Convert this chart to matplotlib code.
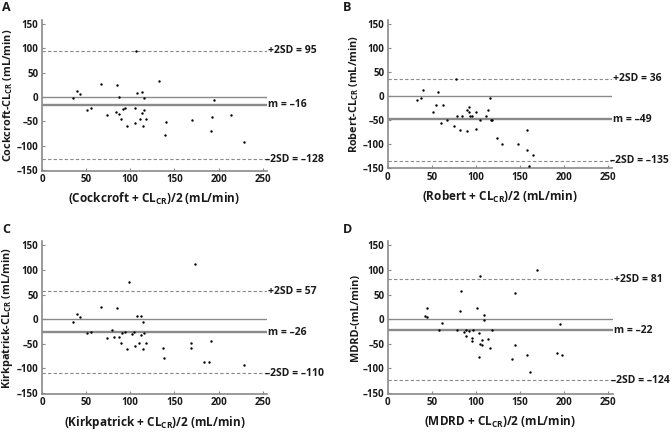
import matplotlib
matplotlib.use("Agg")
import matplotlib.pyplot as plt
import matplotlib.transforms as mtransforms

plt.rcParams['font.family'] = ['Open Sans', 'DejaVu Sans']
plt.rcParams['font.weight'] = 'bold'
plt.rcParams['mathtext.fontset'] = 'custom'
plt.rcParams['mathtext.rm'] = 'Open Sans:bold'
plt.rcParams['mathtext.bf'] = 'Open Sans:bold'
plt.rcParams['mathtext.default'] = 'rm'

# panel A: Cockcroft
a_x = [35.5, 39.6, 43, 51, 56, 67, 74, 85, 84, 87.5, 87, 90, 91.7, 94.4, 96.6, 105, 105.7,
       107, 108, 110.7, 113, 113, 114.5, 115.6, 116, 117.7, 133, 140.5, 139.4, 170, 192,
       191.5, 195, 214.5, 229]
a_y = [-3, 13, 5.5, -27, -23, 27, -36, 25, -31, -1, -35, -46, -25, -23, -59, -23, -54,
       94, 8, -46, -32, 10, -60, -3, -27, -46, 33, -52, -78, -47, -42, -70, -6, -36, -93]

# panel B: Robert
b_x = [33.3, 38.3, 39.8, 57.6, 55.3, 63, 51.5, 61, 67.8, 75.8, 79, 81.8, 84.5, 90, 90,
       92.4, 92.4, 93.6, 96, 100, 100, 104.5, 112, 114, 116, 117, 119, 124, 129.5, 148,
       158, 158, 161, 165.5, 77.6]
b_y = [-9, -5, 12, 7, -20, -20, -33, -57, -50, -62, -41, -71, -41, -73, -30, -23, -33,
       -41, -42, -33, -68, -50, -41, -30, -4, -50, -50, -87, -100, -100, -72, -113, -145,
       -123, 35]

# panel C: Kirkpatrick
c_x = [35.3, 39.5, 42.9, 51, 56, 67, 74, 79.3, 82, 84.6, 87.2, 90, 90.6, 94, 96.2, 98,
       101.5, 104.5, 105.3, 107.5, 110, 112, 112.4, 114, 114.7, 115.8, 117.3, 137.2,
       138.7, 169, 168.4, 173.3, 183, 189.5, 191.7, 228.6]
c_y = [-5, 11, 4, -29, -25, 25, -38, -21, -36, 23, -36, -48, -29, -25, -61, 75, -30, -25,
       -55, 7, -48, 7, -33, -61, -5, -29, -49, -59, -78, -48, -59, 111, -86, -86, -44, -93]

# panel D: MDRD
d_x = [41.9, 44.5, 44.5, 57.7, 61.8, 79, 81.8, 83.3, 86.7, 88.2, 89, 91.6, 95, 95, 97,
       100.7, 103.7, 103.7, 104.5, 104.5, 106.3, 106.7, 108.6, 109.4, 113.5, 115.4,
       118.4, 141, 144.4, 144.1, 158, 161.4, 168.6, 192, 194.6, 197]
d_y = [7, 22, 5, -21, -7, -22, 16, 58, -26, -34, -21, -24, -38, -45, -21, 23, -28, -77,
       -51, 88, -43, -53, -1, 8, -40, -58, -22, -80, -52, 54, -72, -107, 99, -68, -9, -72]

means = [-16, -49, -26, -22]
upper = [95, 36, 57, 81]
lower = [-128, -135, -110, -124]
letters = ['A', 'B', 'C', 'D']
names = ['Cockcroft', 'Robert', 'Kirkpatrick', 'MDRD']
ylabels = ['Cockcroft-CL$_{CR}$ (mL/min)', 'Robert-CL$_{CR}$ (mL/min)',
           'Kirkpatrick-CL$_{CR}$ (mL/min)', 'MDRD-(mL/min)']
xticks = [0, 50, 100, 150, 200, 250]
yticks = [-150, -100, -50, 0, 50, 100, 150]
ytick_labels = ['\u2013150', '\u2013100', '\u201350', '0', '50', '100', '150']


def fmt(v):
    return str(v).replace('-', '\u2013')


fig = plt.figure(figsize=(6.72, 4.34), dpi=100)
pos = [[0.0625, 0.607, 0.335, 0.347], [0.577, 0.612, 0.334, 0.342],
       [0.0625, 0.093, 0.335, 0.351], [0.577, 0.093, 0.335, 0.351]]
xs = [a_x, b_x, c_x, d_x]
ys = [a_y, b_y, c_y, d_y]
grey = '#8a8a8a'
ink = '#1a1a1a'

for i in range(4):
    ax = fig.add_axes(pos[i])
    ax.scatter(xs[i], ys[i], s=3, color='black', zorder=3, linewidths=0)
    ax.axhline(0, color=grey, lw=1.0)
    ax.axhline(means[i], color=grey, lw=1.7)
    ax.axhline(upper[i], color=grey, lw=0.8, ls=(0, (3, 2)))
    ax.axhline(lower[i], color=grey, lw=0.8, ls=(0, (3, 2)))
    ax.set_xlim(0, 255)
    ax.set_ylim(-151, 158)
    ax.set_xticks(xticks)
    ax.set_yticks(yticks)
    ax.set_yticklabels(ytick_labels)
    ax.tick_params(direction='in', length=2.5, width=0.8, color=grey,
                   labelsize=7, labelcolor=ink, pad=2.5)
    for side in ['top', 'right']:
        ax.spines[side].set_visible(False)
    for side in ['left', 'bottom']:
        ax.spines[side].set_color(grey)
        ax.spines[side].set_linewidth(1.2)
    ax.set_ylabel(ylabels[i], fontsize=7.8, labelpad=1, color=ink, fontweight='bold')
    ax.set_xlabel('(' + names[i] + ' + CL$_{CR}$)/2 (mL/min)', fontsize=8.5,
                  labelpad=4, color=ink, fontweight='bold')
    tr = mtransforms.blended_transform_factory(ax.transAxes, ax.transData)
    ax.text(1.005, upper[i], '+2SD = ' + fmt(upper[i]), transform=tr, fontsize=7.5,
            va='center', ha='left', color=ink, fontweight='bold')
    ax.text(1.005, means[i], 'm = ' + fmt(means[i]), transform=tr, fontsize=7.5,
            va='center', ha='left', color=ink, fontweight='bold')
    ax.text(0.99, lower[i], '\u20132SD = ' + fmt(lower[i]), transform=tr, fontsize=7.5,
            va='center', ha='left', color=ink, fontweight='bold')
    fx = 0.003 if i % 2 == 0 else 0.51
    fy = pos[i][1] + pos[i][3] + 0.028
    fig.text(fx, fy, letters[i], fontsize=9, va='center', ha='left', color=ink,
             fontweight='bold')

fig.savefig('out.png', dpi=100)
